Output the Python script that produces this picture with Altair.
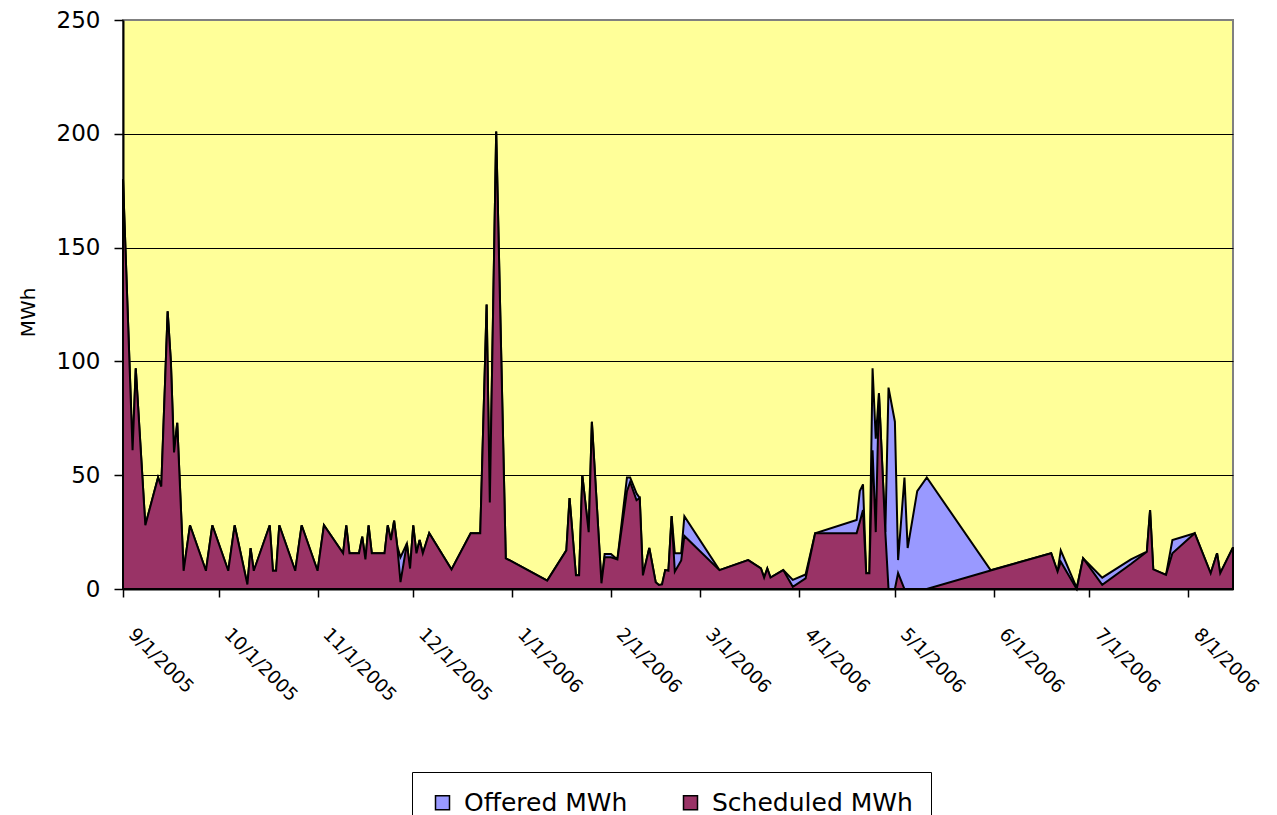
import altair as alt
import pandas as pd

# ---- data ----
dates = [
    "2005-09-01", "2005-09-04", "2005-09-05", "2005-09-08", "2005-09-12", "2005-09-13",
    "2005-09-15", "2005-09-16", "2005-09-17", "2005-09-18", "2005-09-20", "2005-09-22",
    "2005-09-27", "2005-09-29", "2005-10-04", "2005-10-06", "2005-10-10", "2005-10-11",
    "2005-10-12", "2005-10-17", "2005-10-18", "2005-10-19", "2005-10-20", "2005-10-25",
    "2005-10-27", "2005-11-01", "2005-11-03", "2005-11-09", "2005-11-10", "2005-11-11",
    "2005-11-14", "2005-11-15", "2005-11-16", "2005-11-17", "2005-11-18", "2005-11-22",
    "2005-11-23", "2005-11-24", "2005-11-25", "2005-11-26", "2005-11-27", "2005-11-29",
    "2005-11-30", "2005-12-01", "2005-12-02", "2005-12-03", "2005-12-04", "2005-12-06",
    "2005-12-13", "2005-12-19", "2005-12-22", "2005-12-24", "2005-12-25", "2005-12-27",
    "2005-12-30", "2006-01-12", "2006-01-18", "2006-01-19", "2006-01-21", "2006-01-22",
    "2006-01-23", "2006-01-25", "2006-01-26", "2006-01-29", "2006-01-30", "2006-02-01",
    "2006-02-03", "2006-02-06", "2006-02-07", "2006-02-09", "2006-02-10", "2006-02-11",
    "2006-02-13", "2006-02-15", "2006-02-16", "2006-02-17", "2006-02-18", "2006-02-19",
    "2006-02-20", "2006-02-21", "2006-02-23", "2006-02-24", "2006-03-07", "2006-03-16",
    "2006-03-20", "2006-03-21", "2006-03-22", "2006-03-23", "2006-03-27", "2006-03-30",
    "2006-04-03", "2006-04-06", "2006-04-19", "2006-04-20", "2006-04-21", "2006-04-22",
    "2006-04-23", "2006-04-24", "2006-04-25", "2006-04-26", "2006-04-28", "2006-04-29",
    "2006-05-01", "2006-05-02", "2006-05-04", "2006-05-05", "2006-05-08", "2006-05-11",
    "2006-05-31", "2006-06-19", "2006-06-21", "2006-06-22", "2006-06-27", "2006-06-29",
    "2006-07-05", "2006-07-14", "2006-07-19", "2006-07-20", "2006-07-21", "2006-07-25",
    "2006-07-27", "2006-08-03", "2006-08-08", "2006-08-10", "2006-08-11", "2006-08-15",
]

offered = [
    180, 61, 97, 28, 49, 45,
    122, 100, 60, 73, 8, 28,
    8, 28, 8, 28, 2, 18,
    8, 28, 8, 8, 28, 8,
    28, 8, 28, 15.7, 28, 15.7,
    15.7, 23, 13, 28, 15.7, 15.7,
    28, 21.5, 30, 18.6, 14, 20,
    9, 28, 15.7, 21.5, 15.7, 24.5,
    8.6, 24.5, 24.5, 125, 38, 201,
    13.5, 3.7, 17, 40, 6, 6,
    50, 25, 73.5, 2.5, 15.4, 15.4,
    13, 49, 49, 42, 40, 6,
    18, 3, 1.8, 2, 8.3, 8,
    32, 15.7, 15.7, 32, 8.3, 12.7,
    9, 5, 9, 5, 8.3, 4,
    6.4, 24.5, 30.3, 43, 46, 6.9,
    6.9, 97, 66, 86, 25, 88.5,
    73.5, 12.7, 49, 18, 43, 49,
    8.3, 15.7, 7.6, 17, 0.5, 13.5,
    5, 13, 16.4, 34.7, 8.6, 6.2,
    21.5, 24.5, 6.9, 15.7, 6.9, 18.3,
]

scheduled = [
    180, 61, 97, 28, 49, 45,
    122, 100, 60, 73, 8, 28,
    8, 28, 8, 28, 2, 18,
    8, 28, 8, 8, 28, 8,
    28, 8, 28, 15.7, 28, 15.7,
    15.7, 23, 13, 28, 15.7, 15.7,
    28, 21.5, 30, 18.6, 3, 20,
    9, 28, 15.7, 21.5, 15.7, 24.5,
    8.6, 24.5, 24.5, 125, 38, 201,
    13.5, 3.7, 17, 40, 6, 6,
    50, 25, 73.5, 2.5, 13.9, 13.9,
    13, 43, 47, 39, 40, 6,
    18, 3, 1.8, 2, 8.3, 8,
    32, 7.6, 12.5, 23.3, 8.3, 12.7,
    9, 5, 9, 5, 8.3, 1,
    4.7, 24.5, 24.5, 29.5, 34.7, 6.9,
    6.9, 61, 25, 86, 25, 0,
    0, 7, 0, 0, 0, 0,
    8.1, 15.7, 7.6, 12, 0, 13.5,
    1.8, 11, 16.4, 34.7, 8.6, 6.2,
    15.7, 24.5, 6.9, 15.7, 6.9, 18.3,
]

series_names = ["Offered MWh", "Scheduled MWh"]
series_colors = ["#9999FF", "#993366"]
month_ticks = [(2005, 9), (2005, 10), (2005, 11), (2005, 12), (2006, 1), (2006, 2),
               (2006, 3), (2006, 4), (2006, 5), (2006, 6), (2006, 7), (2006, 8)]
y_ticks = [0, 50, 100, 150, 200, 250]

df = pd.DataFrame({"date": dates, series_names[0]: offered, series_names[1]: scheduled})
long = df.melt("date", var_name="series", value_name="mwh")

FONT = "DejaVu Sans"

x_enc = alt.X(
    "date:T",
    scale=alt.Scale(type="utc", nice=False,
                    domain=[alt.DateTime(year=2005, month=9, date=1, utc=True),
                            alt.DateTime(year=2006, month=8, date=15, utc=True)]),
    axis=alt.Axis(
        values=[alt.DateTime(year=y, month=m, date=1, utc=True) for y, m in month_ticks],
        format="%-m/%-d/%Y", labelAngle=45, labelAlign="left", labelBaseline="alphabetic",
        labelPadding=38, labelOffset=4, labelFlush=False, labelOverlap=False,
        labelFont=FONT, labelFontSize=18.5, labelColor="black",
        tickSize=8, tickColor="black", tickWidth=1.5,
        domainColor="black", domainWidth=2, grid=False, title=None,
    ),
)

y_enc = alt.Y(
    "mwh:Q",
    scale=alt.Scale(domain=[0, 250], nice=False),
    axis=alt.Axis(
        values=y_ticks, labelFont=FONT, labelFontSize=23, labelColor="black",
        labelPadding=14, tickSize=9, tickColor="black", tickWidth=1.5,
        domainColor="black", domainWidth=2,
        grid=True, gridWidth=1,
        gridColor={"condition": {"test": "datum.value >= 250", "value": "#808080"}, "value": "black"},
        title="MWh", titleFont=FONT, titleFontSize=20, titleFontWeight="normal",
        titleColor="black", titleX=-95, titleY=292, titleAlign="center", titleBaseline="middle",
    ),
)

color_enc = alt.Color(
    "series:N",
    scale=alt.Scale(domain=series_names, range=series_colors),
    legend=alt.Legend(
        title=None, orient="none", legendX=289, legendY=752, direction="horizontal",
        symbolType="square", symbolSize=196, symbolStrokeColor="black", symbolStrokeWidth=1.5,
        symbolOpacity=1, labelFont=FONT, labelFontSize=25, labelColor="black",
        labelLimit=0, labelOffset=9, columnPadding=50, padding=18,
        strokeColor="black", fillColor="white",
    ),
)

base = alt.Chart(long)
layers = [
    base.transform_filter(alt.datum.series == name)
    .mark_area(stroke="black", strokeWidth=2, opacity=1)
    .encode(x=x_enc, y=y_enc, color=color_enc)
    for name in series_names
]

chart = (
    alt.layer(*layers)
    .properties(
        width=1110, height=569,
        padding={"left": 115, "top": 12, "right": 28, "bottom": 226},
        autosize=alt.AutoSizeParams(type="none"),
        background="white",
    )
    .configure_view(fill="#FFFF99", stroke="#808080", strokeWidth=2)
)

chart.save("out.html", embed_options={"renderer": "svg", "actions": False})
